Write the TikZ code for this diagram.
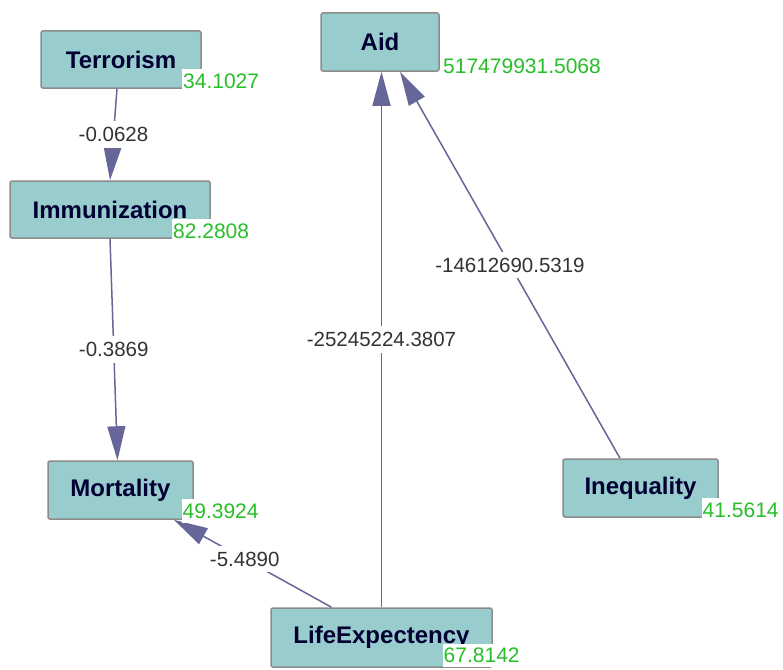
\documentclass[tikz,border=0pt]{standalone}
\usepackage{fontspec}
\setmainfont{Liberation Sans}
\usetikzlibrary{arrows.meta,calc}
\definecolor{nodefill}{RGB}{153,204,204}
\definecolor{nodeborder}{RGB}{140,140,140}
\definecolor{nodetext}{RGB}{0,0,51}
\definecolor{edgecol}{RGB}{102,102,153}
\definecolor{valgreen}{RGB}{40,190,40}
\definecolor{lbltext}{RGB}{51,51,51}
\tikzset{
  var/.style={draw=nodeborder, fill=nodefill, line width=1.5pt, rounded corners=2pt,
    text=nodetext, font=\fontsize{24}{28}\selectfont\bfseries, inner sep=0pt},
  val/.style={anchor=west, fill=white, text=valgreen, inner xsep=1pt, inner ysep=5pt,
    text depth=0pt, font=\fontsize{21}{24}\selectfont},
  edge/.style={draw=edgecol, line width=1.5pt, -{Triangle[width=18pt,length=34pt]}, fill=edgecol},
  elabel/.style={fill=white, text=lbltext, inner xsep=1pt, inner ysep=6pt,
    font=\fontsize{20.5}{24}\selectfont}
}
\begin{document}
\begin{tikzpicture}[x=1pt,y=-1pt]
\useasboundingbox (0,0) rectangle (783,669);
% variables
\node[var, minimum width=160pt, minimum height=57pt] (terr) at (121,59.5) {Terrorism};
\node[var, minimum width=200pt, minimum height=57pt] (imm) at (110,209.5) {Immunization};
\node[var, minimum width=145pt, minimum height=58pt] (mort) at (120.5,490) {Mortality};
\node[var, minimum width=118pt, minimum height=58pt] (aid) at (380,42) {Aid};
\node[var, minimum width=155pt, minimum height=58pt] (ineq) at (640.5,488) {Inequality};
\node[var, minimum width=221pt, minimum height=59pt] (life) at (381.5,637.5) {LifeExpectency};
% connectors
\path[edge] ([xshift=-4pt]terr.south) -- (imm.north)
  node[midway, elabel] {-0.0628};
\path[edge] (imm.south) -- ([xshift=-3pt]mort.north)
  node[midway, elabel] {-0.3869};
\path[edge] ([xshift=-50pt]life.north) -- ([xshift=-20pt]mort.south east)
  node[pos=0.55, elabel] {-5.4890};
\path[edge] (life.north) -- (life.north |- aid.south)
  node[midway, elabel] {-25245224.3807};
\path[edge] ([xshift=-20.5pt]ineq.north) -- ([xshift=20pt]aid.south)
  node[midway, elabel] {-14612690.5319};
% values
\node[val] (vterr) at ($(terr.center)+(61,22)$) {34.1027};
\node[val] (vimm) at ($(imm.center)+(62,22)$) {82.2808};
\node[val] (vmort) at ($(mort.center)+(61,21)$) {49.3924};
\node[val] (vaid) at ($(aid.center)+(62,24)$) {517479931.5068};
\node[val] (vineq) at ($(ineq.center)+(61,22)$) {41.5614};
\node[val, inner ysep=4pt] (vlife) at ($(life.center)+(61,18)$) {67.8142};
\end{tikzpicture}
\end{document}
